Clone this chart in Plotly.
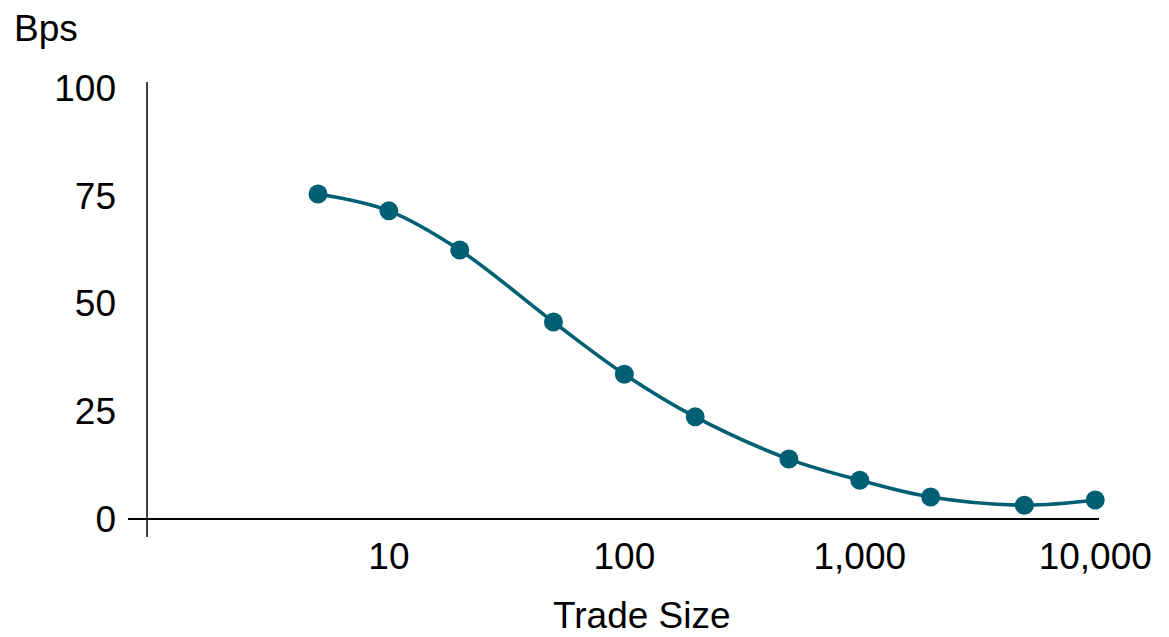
import plotly.graph_objects as go

trade_size = [5, 10, 20, 50, 100, 200, 500, 1000, 2000, 5000, 10000]
bps = [75.4, 71.5, 62.4, 45.7, 33.6, 23.7, 13.9, 9.0, 5.1, 3.2, 4.4]
x_tick_vals = [10, 100, 1000, 10000]
x_tick_text = ["10", "100", "1,000", "10,000"]
y_tick_vals = [0, 25, 50, 75, 100]

TEAL = "#005f73"
FONT = "Liberation Sans, Arial, sans-serif"
FS = 37

fig = go.Figure()
fig.add_trace(go.Scatter(
    x=trade_size, y=bps, mode="lines+markers",
    line=dict(color=TEAL, width=3.6, shape="spline", smoothing=1.0),
    marker=dict(color=TEAL, size=19),
    cliponaxis=False, showlegend=False,
))

fig.update_layout(
    width=1161, height=629,
    margin=dict(l=120, r=70, t=74, b=110),
    plot_bgcolor="white", paper_bgcolor="white",
    font=dict(family=FONT, size=FS, color="black"),
    xaxis=dict(
        type="log", range=[-0.108, 4.016],
        tickvals=x_tick_vals, ticktext=x_tick_text,
        showgrid=False, zeroline=False, showline=False,
        ticks="", ticklabelstandoff=4,
        tickfont=dict(size=FS),
    ),
    yaxis=dict(
        range=[-1.86, 101.4],
        tickvals=y_tick_vals,
        showgrid=False, zeroline=True, zerolinecolor="black", zerolinewidth=1.5,
        showline=False, ticks="", ticklabelstandoff=11,
        tickfont=dict(size=FS),
    ),
    shapes=[
        dict(type="line", xref="paper", yref="paper",
             x0=0.0196, x1=0.0196, y0=-0.0225, y1=1.0,
             line=dict(color="black", width=1.5)),
    ],
    annotations=[
        dict(text="Bps", xref="paper", yref="paper", x=-0.1195, y=1.121,
             xanchor="left", yanchor="middle", showarrow=False,
             font=dict(size=FS)),
        dict(text="Trade Size", xref="paper", yref="paper", x=0.529, y=-0.198,
             xanchor="center", yanchor="middle", showarrow=False,
             font=dict(size=FS)),
    ],
)

fig.write_html("out.html")
